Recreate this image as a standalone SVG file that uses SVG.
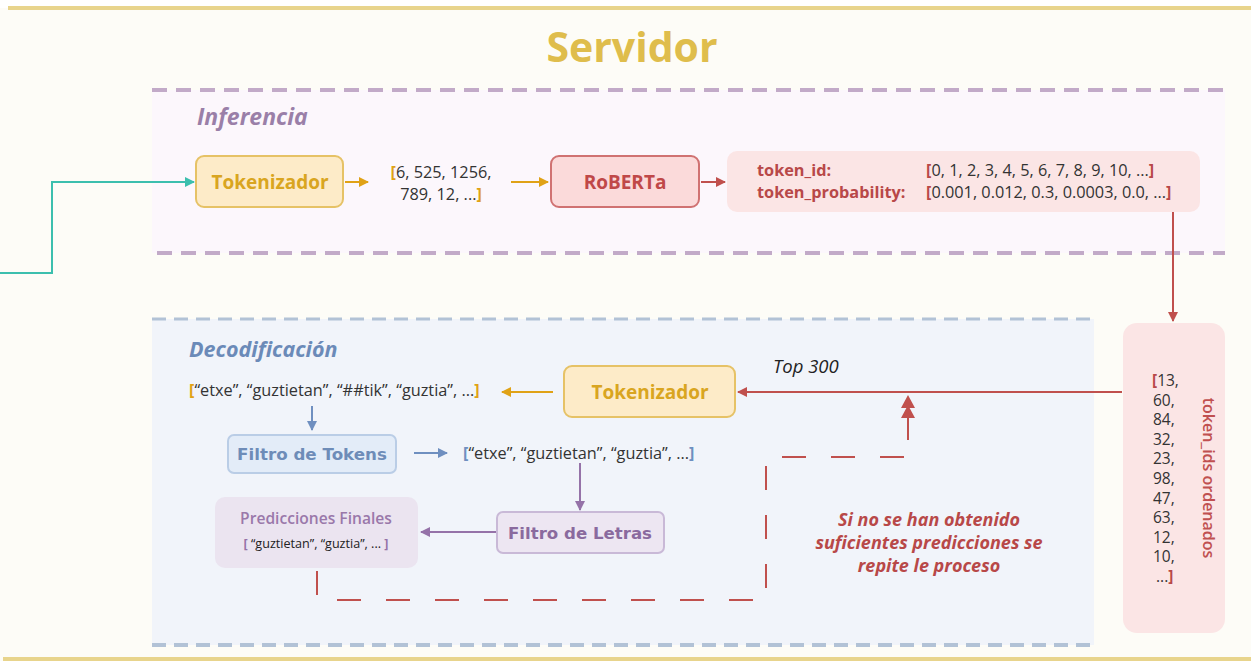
<svg xmlns="http://www.w3.org/2000/svg" width="1251" height="661" viewBox="0 0 1251 661">
<defs>
<style>
text{font-family:"Open Sans","Noto Sans","DejaVu Sans",sans-serif;}
.t{font-size:16.3px;fill:#333;}
.n{font-size:15.5px;fill:#333;}
.b{font-weight:700;}
.dv{font-family:"DejaVu Sans","Verdana",sans-serif;font-weight:700;}
.sec{font-style:italic;font-weight:700;}
</style>
<marker id="aTeal" viewBox="0 0 10 10" refX="9" refY="5" markerWidth="5" markerHeight="5" orient="auto"><path d="M0,0L10,5L0,10z" fill="#3cbfae"/></marker>
<marker id="aOr" viewBox="0 0 10 10" refX="9" refY="5" markerWidth="5" markerHeight="5" orient="auto"><path d="M0,0L10,5L0,10z" fill="#e0a216"/></marker>
<marker id="aRed" viewBox="0 0 10 10" refX="9" refY="5" markerWidth="5" markerHeight="5" orient="auto"><path d="M0,0L10,5L0,10z" fill="#c0504d"/></marker>
<marker id="aBlue" viewBox="0 0 10 10" refX="9" refY="5" markerWidth="5" markerHeight="5" orient="auto"><path d="M0,0L10,5L0,10z" fill="#6f8fc0"/></marker>
<marker id="aPur" viewBox="0 0 10 10" refX="9" refY="5" markerWidth="5" markerHeight="5" orient="auto"><path d="M0,0L10,5L0,10z" fill="#9572a8"/></marker>
</defs>
<rect x="0" y="0" width="1251" height="661" fill="#fdfcf7"/>
<rect x="0" y="0" width="1251" height="8" fill="#ffffff"/>
<line x1="8" y1="8" x2="1251" y2="8" stroke="#e8d48c" stroke-width="4"/>
<line x1="3" y1="659" x2="1251" y2="659" stroke="#e8d48c" stroke-width="4"/>
<text x="632" y="62" text-anchor="middle" class="b" font-size="41" fill="#dfbd4c">Servidor</text>

<g id="inferencia">
<rect x="152" y="90" width="1073" height="163" fill="#fcf7fc"/>
<line x1="152" y1="90" x2="1225" y2="90" stroke="#c2aac8" stroke-width="4" stroke-dasharray="15 9"/>
<line x1="157" y1="253" x2="1225" y2="253" stroke="#c2aac8" stroke-width="4" stroke-dasharray="15 9"/>
<text x="197" y="125" class="sec" font-size="23" fill="#9a7fa8">Inferencia</text>
</g>

<g id="decodificacion">
<rect x="152" y="319" width="942" height="326" fill="#f1f4fa"/>
<line x1="152" y1="319" x2="1094" y2="319" stroke="#b2c2d6" stroke-width="3" stroke-dasharray="14 8"/>
<line x1="152" y1="645" x2="1094" y2="645" stroke="#b2c2d6" stroke-width="4" stroke-dasharray="14 8"/>
<text x="189" y="357" class="sec" font-size="21.5" fill="#6b8ab8">Decodificación</text>
</g>

<g id="connectors" fill="none" stroke-width="2">
<path d="M0,273H52V182H194" stroke="#3cbfae" marker-end="url(#aTeal)"/>
<line x1="345" y1="182" x2="368" y2="182" stroke="#e0a216" marker-end="url(#aOr)"/>
<line x1="511" y1="182" x2="548" y2="182" stroke="#e0a216" marker-end="url(#aOr)"/>
<line x1="701" y1="182" x2="725" y2="182" stroke="#c0504d" marker-end="url(#aRed)"/>
<line x1="1173" y1="212" x2="1173" y2="321" stroke="#c0504d" marker-end="url(#aRed)"/>
<line x1="1122" y1="392" x2="738" y2="392" stroke="#c0504d" marker-end="url(#aRed)"/>
<line x1="553" y1="392" x2="502" y2="392" stroke="#e0a216" marker-end="url(#aOr)"/>
<line x1="312" y1="406" x2="312" y2="430" stroke="#6f8fc0" marker-end="url(#aBlue)"/>
<line x1="414" y1="453" x2="447" y2="453" stroke="#6f8fc0" marker-end="url(#aBlue)"/>
<line x1="580" y1="463" x2="580" y2="510" stroke="#9572a8" marker-end="url(#aPur)"/>
<line x1="497" y1="532" x2="421" y2="532" stroke="#9572a8" marker-end="url(#aPur)"/>
<path d="M317,571V600H766V457H906" stroke="#c0504d" stroke-dasharray="24 25"/>
<line x1="908" y1="440" x2="908" y2="404" stroke="#c0504d"/>
<path d="M908,395L901,408H915z M908,405L901,418H915z" fill="#c0504d" stroke="none"/>
</g>

<g id="tokenizador1">
<rect x="196" y="156" width="147" height="51" rx="8" fill="#fdebc8" stroke="#e6c266" stroke-width="2"/>
<text x="270" y="189" text-anchor="middle" class="b" font-size="19" fill="#d9a520">Tokenizador</text>
</g>

<g id="ids">
<text x="441" y="178" text-anchor="middle" class="t" font-size="16.5"><tspan fill="#e0a216" font-weight="700">[</tspan>6, 525, 1256,</text>
<text x="441" y="200" text-anchor="middle" class="t" font-size="16.5">789, 12, ...<tspan fill="#e0a216" font-weight="700">]</tspan></text>
</g>

<g id="roberta">
<rect x="551" y="156" width="148" height="51" rx="8" fill="#fbdada" stroke="#d07272" stroke-width="2"/>
<text x="625" y="189" text-anchor="middle" class="b" font-size="19" fill="#c04848">RoBERTa</text>
</g>

<g id="probs">
<rect x="727" y="151" width="473" height="61" rx="10" fill="#fbe5e5"/>
<text x="757" y="176" class="b" font-size="16.3" fill="#b84848">token_id:</text>
<text x="757" y="198" class="b" font-size="16.3" fill="#b84848">token_probability:</text>
<text x="926" y="176" class="t"><tspan fill="#b84848" font-weight="700">[</tspan>0, 1, 2, 3, 4, 5, 6, 7, 8, 9, 10, ...<tspan fill="#b84848" font-weight="700">]</tspan></text>
<text x="926" y="198" class="t"><tspan fill="#b84848" font-weight="700">[</tspan>0.001, 0.012, 0.3, 0.0003, 0.0, ...<tspan fill="#b84848" font-weight="700">]</tspan></text>
</g>

<g id="sorted">
<rect x="1123" y="323" width="102" height="310" rx="14" fill="#fbe5e5"/>
<text class="n" x="1152" y="386"><tspan fill="#b84848" font-weight="700">[</tspan>13,</text>
<text class="n" x="1153" y="405.6">60,</text>
<text class="n" x="1153" y="425.2">84,</text>
<text class="n" x="1153" y="444.8">32,</text>
<text class="n" x="1153" y="464.4">23,</text>
<text class="n" x="1153" y="484">98,</text>
<text class="n" x="1153" y="503.6">47,</text>
<text class="n" x="1153" y="523.2">63,</text>
<text class="n" x="1153" y="542.8">12,</text>
<text class="n" x="1153" y="562.4">10,</text>
<text class="n" x="1156" y="582">...<tspan fill="#b84848" font-weight="700">]</tspan></text>
<text transform="translate(1203,478) rotate(90)" text-anchor="middle" font-size="16" font-weight="600" fill="#c05050">token_ids ordenados</text>
</g>

<text x="773" y="373" font-size="18.5" font-style="italic" fill="#222">Top 300</text>

<g id="tokenizador2">
<rect x="564" y="366" width="171" height="51" rx="8" fill="#fdebc8" stroke="#e6c266" stroke-width="2"/>
<text x="650" y="399" text-anchor="middle" class="b" font-size="19" fill="#d9a520">Tokenizador</text>
</g>

<g id="tokens">
<text x="189" y="396" class="t"><tspan fill="#e0a216" font-weight="700">[</tspan>“etxe”, “guztietan”, “##tik”, “guztia”, ...<tspan fill="#e0a216" font-weight="700">]</tspan></text>
</g>

<g id="filtroTokens">
<rect x="228" y="435" width="168" height="38" rx="6" fill="#e3ecf8" stroke="#bacde6" stroke-width="2"/>
<text x="312" y="460" text-anchor="middle" class="dv" font-size="16.7" fill="#6e8cb8">Filtro de Tokens</text>
</g>

<g id="tokens2">
<text x="463" y="459" class="t"><tspan fill="#6f8fc0" font-weight="700">[</tspan>“etxe”, “guztietan”, “guztia”, ...<tspan fill="#6f8fc0" font-weight="700">]</tspan></text>
</g>

<g id="filtroLetras">
<rect x="497" y="512" width="167" height="41" rx="6" fill="#ede6f2" stroke="#c9b9d7" stroke-width="2"/>
<text x="580" y="539" text-anchor="middle" class="dv" font-size="16.6" fill="#8a6a9e">Filtro de Letras</text>
</g>

<g id="predicciones">
<rect x="215" y="497" width="203" height="71" rx="10" fill="#ebe4f0"/>
<text x="316" y="524" text-anchor="middle" font-size="15.6" font-weight="600" fill="#9a78aa">Predicciones Finales</text>
<text x="316" y="548" text-anchor="middle" font-size="12.6" fill="#222"><tspan fill="#9572a8" font-weight="700">[</tspan> “guztietan”, “guztia”, ... <tspan fill="#9572a8" font-weight="700">]</tspan></text>
</g>

<g id="nota" font-size="18" font-style="italic" font-weight="700" fill="#b84848" text-anchor="middle">
<text x="929" y="526">Si no se han obtenido</text>
<text x="929" y="549">suficientes predicciones se</text>
<text x="929" y="572">repite le proceso</text>
</g>
</svg>
